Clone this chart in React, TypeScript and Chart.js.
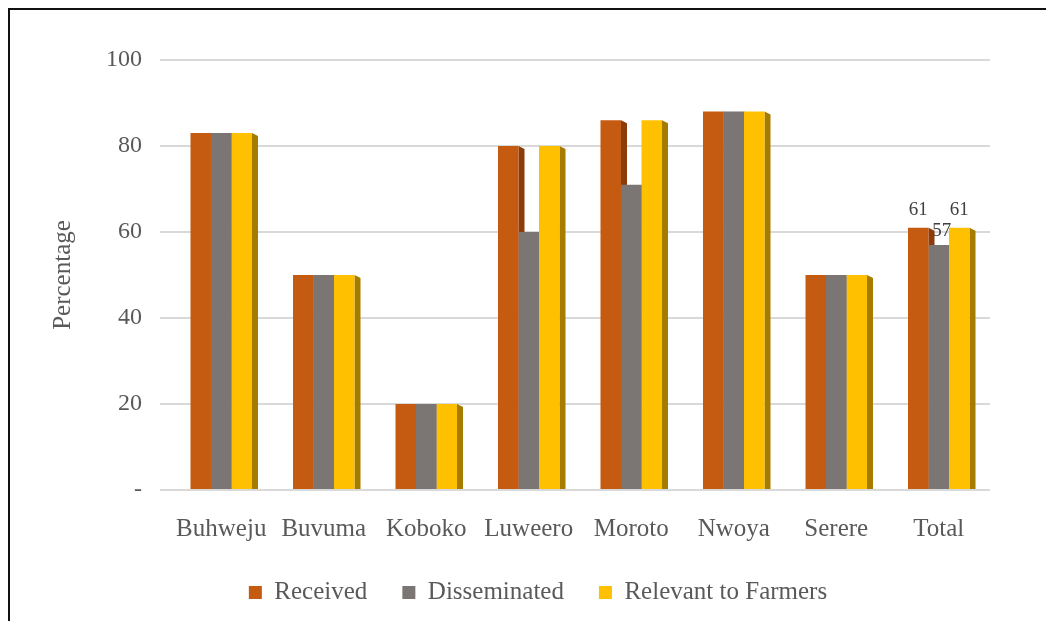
import React, { useEffect, useRef } from "react";
import { Chart, registerables } from "chart.js";

Chart.register(...registerables);

const categories = ["Buhweju", "Buvuma", "Koboko", "Luweero", "Moroto", "Nwoya", "Serere", "Total"];
const received = [83, 50, 20, 80, 86, 88, 50, 61];
const disseminated = [83, 50, 20, 60, 71, 88, 50, 57];
const relevant = [83, 50, 20, 80, 86, 88, 50, 61];
const yTicks = [0, 20, 40, 60, 80, 100];
const labelledCategory = "Total";

const FONT = "'Liberation Serif', 'DejaVu Serif', serif";
const TEXT = "#595959";

const sideColors = ["#8a3c0b", "#55514f", "#a57c00"];

const sidePlugin = {
  id: "sideFaces",
  beforeDatasetsDraw(chart: any) {
    const ctx = chart.ctx;
    ctx.save();
    chart.data.datasets.forEach((ds: any, di: number) => {
      const meta = chart.getDatasetMeta(di);
      meta.data.forEach((bar: any) => {
        const right = bar.x + bar.width / 2;
        const top = bar.y;
        const base = bar.base;
        ctx.fillStyle = sideColors[di];
        ctx.beginPath();
        ctx.moveTo(right, top);
        ctx.lineTo(right + 6, top + 3);
        ctx.lineTo(right + 6, base);
        ctx.lineTo(right, base);
        ctx.closePath();
        ctx.fill();
      });
    });
    ctx.restore();
  },
};

const labelPlugin = {
  id: "totalLabels",
  afterDatasetsDraw(chart: any) {
    const ctx = chart.ctx;
    const idx = chart.data.labels.indexOf(labelledCategory);
    if (idx < 0) return;
    ctx.save();
    ctx.font = `19px ${FONT}`;
    ctx.fillStyle = "#404040";
    ctx.textAlign = "center";
    ctx.textBaseline = "bottom";
    chart.data.datasets.forEach((ds: any, di: number) => {
      const bar = chart.getDatasetMeta(di).data[idx];
      const off = di === 1 ? 4 : 8;
      const dx = di === 1 ? 3 : 0;
      ctx.fillText(String(ds.data[idx]), bar.x + dx, bar.y - off);
    });
    ctx.restore();
  },
};

const legendShift = {
  id: "legendShift",
  afterLayout(chart: any) {
    const lg = chart.legend;
    if (!lg) return;
    lg.left += 19;
    lg.right += 19;
    lg.top -= 15;
    lg.bottom -= 15;
  },
};

export default function App() {
  const ref = useRef<HTMLCanvasElement>(null);
  useEffect(() => {
    if (!ref.current) return;
    const chart = new Chart(ref.current, {
      type: "bar",
      data: {
        labels: categories,
        datasets: [
          { label: "Received", data: received, backgroundColor: "#C55A11" },
          { label: "Disseminated", data: disseminated, backgroundColor: "#7B7674" },
          { label: "Relevant to Farmers", data: relevant, backgroundColor: "#FFC000" },
        ],
      },
      options: {
        animation: false,
        responsive: false,
        maintainAspectRatio: false,
        layout: { padding: { left: 48, right: 56, top: 60, bottom: -9 } },
        datasets: { bar: { categoryPercentage: 0.6, barPercentage: 1.0 } } as any,
        plugins: {
          tooltip: { enabled: false },
          legend: {
            position: "bottom",
            labels: {
              boxWidth: 13,
              boxHeight: 13,
              padding: 35,
              color: TEXT,
              font: { family: FONT, size: 25 },
            },
          },
        },
        scales: {
          x: {
            grid: { display: false },
            border: { display: false },
            ticks: {
              color: TEXT,
              font: { family: FONT, size: 25 },
              padding: 16,
              maxRotation: 0,
            },
          },
          y: {
            min: 0,
            max: 100,
            afterBuildTicks: (s: any) => {
              s.ticks = yTicks.map((v) => ({ value: v }));
            },
            afterFit: (s: any) => {
              s.width = 122;
            },
            grid: { color: "#d9d9d9", lineWidth: 2, tickLength: 10 },
            border: { display: false },
            ticks: {
              color: TEXT,
              font: { family: FONT, size: 24 },
              padding: 18,
              callback: (v: any) => (v === 0 ? "-" : String(v)),
            },
            title: {
              display: true,
              text: "Percentage",
              color: TEXT,
              font: { family: FONT, size: 25 },
              padding: { top: 0, bottom: 0 },
            },
          },
        },
      },
      plugins: [sidePlugin, labelPlugin, legendShift],
    });
    return () => chart.destroy();
  }, []);

  return (
    <div style={{ position: "absolute", left: 0, top: 0, width: 1046, height: 621, background: "#fff", overflow: "hidden" }}>
      <div style={{ position: "absolute", left: 8, top: 8, right: 0, bottom: 0, borderTop: "2px solid #111", borderLeft: "2px solid #111" }} />
      <canvas ref={ref} width={1046} height={621} style={{ position: "absolute", left: 0, top: 0 }} />
    </div>
  );
}
